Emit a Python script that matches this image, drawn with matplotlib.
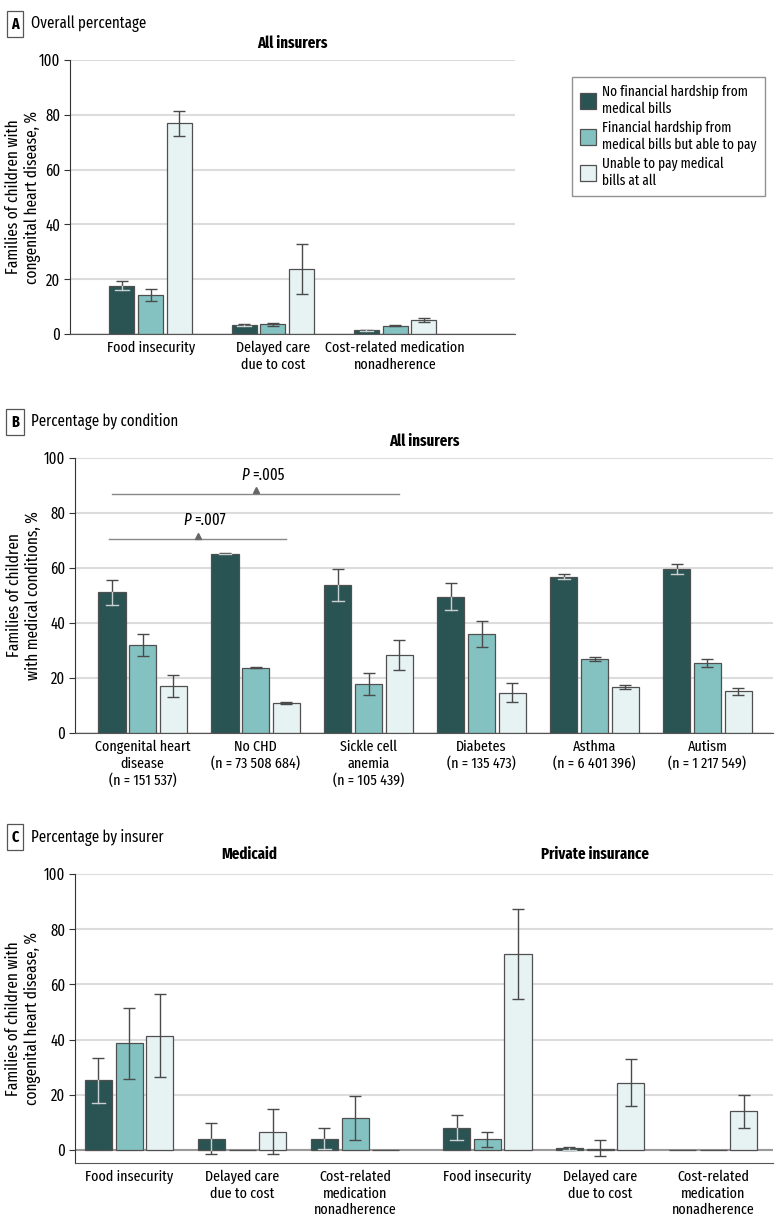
import matplotlib
matplotlib.use("Agg")
import matplotlib.pyplot as plt
import numpy as np
from matplotlib import font_manager
from matplotlib.patches import Patch

installed = set(f.name for f in font_manager.fontManager.ttflist)
if "Fira Sans Extra Condensed" in installed:
    main_font, k = "Fira Sans Extra Condensed", 1.0
elif "Fira Sans Condensed" in installed:
    main_font, k = "Fira Sans Condensed", 0.88
else:
    main_font, k = "DejaVu Sans", 0.8
plt.rcParams['font.family'] = [main_font, 'DejaVu Sans']

series_names = ["No financial hardship from\nmedical bills",
                "Financial hardship from\nmedical bills but able to pay",
                "Unable to pay medical\nbills at all"]
colors = ['#2a5453', '#84c2c1', '#e7f2f3']

# panel A
cats_a = ["Food insecurity", "Delayed care\ndue to cost", "Cost-related medication\nnonadherence"]
a_vals = [[17.5, 3.3, 1.3], [14.2, 3.5, 3.0], [77.0, 23.7, 5.0]]
a_lo = [[16.0, 3.1, 1.1], [12.0, 3.1, 2.8], [72.3, 14.5, 4.4]]
a_hi = [[19.2, 3.5, 1.5], [16.5, 3.9, 3.2], [81.5, 33.0, 5.8]]

# panel B
cats_b = ["Congenital heart\ndisease\n(n = 151 537)",
          "No CHD\n(n = 73 508 684)",
          "Sickle cell\nanemia\n(n = 105 439)",
          "Diabetes\n(n = 135 473)",
          "Asthma\n(n = 6 401 396)",
          "Autism\n(n = 1 217 549)"]
b_vals = [[51.1, 65.2, 54.0, 49.6, 56.8, 59.6],
          [31.9, 23.8, 17.8, 35.9, 26.8, 25.4],
          [17.2, 10.9, 28.5, 14.5, 16.7, 15.2]]
b_lo = [[46.4, 65.0, 48.1, 44.6, 56.0, 58.0],
        [27.9, 23.6, 13.8, 31.2, 26.1, 23.9],
        [13.2, 10.7, 23.0, 11.1, 16.0, 13.9]]
b_hi = [[55.7, 65.4, 59.7, 54.5, 57.7, 61.3],
        [36.0, 24.0, 21.8, 40.7, 27.6, 26.8],
        [21.0, 11.1, 33.9, 18.1, 17.3, 16.4]]

# panel C (Medicaid then Private insurance)
cats_c = ["Food insecurity", "Delayed care\ndue to cost", "Cost-related\nmedication\nnonadherence"] * 2
c_vals = [[25.2, 4.0, 4.0, 8.1, 0.6, 0.0],
          [38.7, 0.0, 11.6, 4.0, 0.5, 0.0],
          [41.4, 6.7, 0.0, 71.0, 24.4, 14.0]]
c_lo = [[16.9, -1.6, 0.2, 3.5, 0.0, None],
        [25.9, None, 3.6, 1.2, -2.3, None],
        [26.6, -1.6, None, 54.8, 16.0, 8.1]]
c_hi = [[33.5, 9.7, 7.9, 12.6, 1.2, None],
        [51.6, None, 19.7, 6.7, 3.5, None],
        [56.5, 14.9, None, 87.2, 32.9, 20.0]]

W, H = 780, 1227
FS = 11 * k       # tick labels
FT = 11.6 * k     # titles / headers
FY = 12 * k       # y labels


def box(l, t, r, b):
    return [l / W, 1 - b / H, (r - l) / W, (b - t) / H]


def style_axes(ax):
    ax.set_axisbelow(True)
    ax.yaxis.grid(True, color='#dcdcdc', lw=1.5)
    ax.spines['top'].set_visible(False)
    ax.spines['right'].set_visible(False)
    ax.spines['left'].set_color('#333333')
    ax.spines['bottom'].set_color('#555555')
    ax.tick_params(axis='x', length=0, labelsize=FS, pad=5)
    ax.tick_params(axis='y', length=4, color='#333333', labelsize=FS + 0.5, pad=3)
    ax.set_yticks([0, 20, 40, 60, 80, 100])


def draw_bars(ax, pos, vals, los, his, width, step):
    for i in range(3):
        x = pos + (i - 1) * step
        ax.bar(x, vals[i], width, color=colors[i], edgecolor='#505050', lw=0.9, zorder=2)
        for xx, v, lo, hi in zip(x, vals[i], los[i], his[i]):
            if lo is None:
                continue
            ax.errorbar(xx, v, yerr=[[v - lo], [hi - v]], fmt='none', ecolor='#4a4a4a',
                        elinewidth=1, capsize=4, capthick=1, zorder=3)
            if i == 0 and lo < v:
                ax.plot([xx, xx], [max(lo, 0), v], color='#c8d2d2', lw=1, zorder=4)
                if lo >= 0:
                    ax.plot([xx - 0.055, xx + 0.055], [lo, lo], color='#c8d2d2', lw=1, zorder=4)


def panel_label(y, letter, text):
    fig.text(15 / W, 1 - y / H, letter, ha='center', va='center', fontsize=FS, fontweight='bold',
             bbox=dict(boxstyle='square,pad=0.3', fc='white', ec='#555555', lw=0.9))
    fig.text(31 / W, 1 - y / H, text, ha='left', va='center', fontsize=FT)


ylab = "Families of children with\ncongenital heart disease, %"

fig = plt.figure(figsize=(7.8, 12.27), dpi=100)

# ---- A
axA = fig.add_axes(box(70, 60, 515, 334))
style_axes(axA)
pos_a = np.arange(3)
draw_bars(axA, pos_a, a_vals, a_lo, a_hi, 0.205, 0.235)
axA.set_xlim(-0.66, 2.98)
axA.set_ylim(0, 100)
axA.set_xticks(pos_a)
axA.set_xticklabels(cats_a)
axA.set_ylabel(ylab, fontsize=FY)
axA.yaxis.set_label_coords((41 - 70) / 445, 0.5)
axA.set_title("All insurers", fontsize=FT, fontweight='bold', pad=9)
panel_label(24, "A", "Overall percentage")
handles = [Patch(facecolor=c, edgecolor='#505050', lw=0.9) for c in colors]
fig.legend(handles, series_names, loc='upper left', bbox_to_anchor=(572 / W, 1 - 77 / H),
           fontsize=10.4 * k, frameon=True, fancybox=False, edgecolor='#777777',
           handlelength=1.1, handleheight=1.3, handletextpad=0.45, borderpad=0.55,
           borderaxespad=0, labelspacing=0.35)

# ---- B
axB = fig.add_axes(box(75, 458, 773, 733))
style_axes(axB)
pos_b = np.arange(6)
draw_bars(axB, pos_b, b_vals, b_lo, b_hi, 0.24, 0.272)
axB.set_xlim(-0.60, 5.58)
axB.set_ylim(0, 100)
axB.set_xticks(pos_b)
axB.set_xticklabels(cats_b, va='top')
axB.set_ylabel("Families of children\nwith medical conditions, %", fontsize=FY)
axB.yaxis.set_label_coords((41 - 75) / 698, 0.5)
axB.set_title("All insurers", fontsize=FT, fontweight='bold', pad=9)
panel_label(422, "B", "Percentage by condition")
for x0, x1, y, label in [(-0.30, 1.27, 70.5, ".007"), (-0.27, 2.27, 86.9, ".005")]:
    xm = (x0 + x1) / 2
    axB.plot([x0, x1], [y, y], color='#888888', lw=1, zorder=3)
    axB.plot([xm], [y + 1.3], marker='^', color='#666666', ms=5, zorder=3)
    axB.text(xm - 0.06, y + 4, "P", ha='right', va='bottom', fontsize=FT, style='italic')
    axB.text(xm - 0.03, y + 4, "=" + label, ha='left', va='bottom', fontsize=FT)

# ---- C
axC = fig.add_axes(box(75, 874, 773, 1163))
style_axes(axC)
pos_c = np.array([0, 1, 2, 3.17, 4.17, 5.17])
draw_bars(axC, pos_c, c_vals, c_lo, c_hi, 0.24, 0.272)
axC.axhline(0, color='#9a9a9a', lw=1.5, zorder=1)
axC.set_xlim(-0.48, 5.70)
axC.set_ylim(-4.7, 100)
axC.set_xticks(pos_c)
axC.set_xticklabels(cats_c, va='top')
axC.set_ylabel(ylab, fontsize=FY)
axC.yaxis.set_label_coords((41 - 75) / 698, 0.5)
axC.text(0.25, 1.04, "Medicaid", transform=axC.transAxes, ha='center', va='bottom',
         fontsize=FT, fontweight='bold')
axC.text(0.745, 1.04, "Private insurance", transform=axC.transAxes, ha='center', va='bottom',
         fontsize=FT, fontweight='bold')
panel_label(837, "C", "Percentage by insurer")

fig.savefig("out.png", dpi=100)
